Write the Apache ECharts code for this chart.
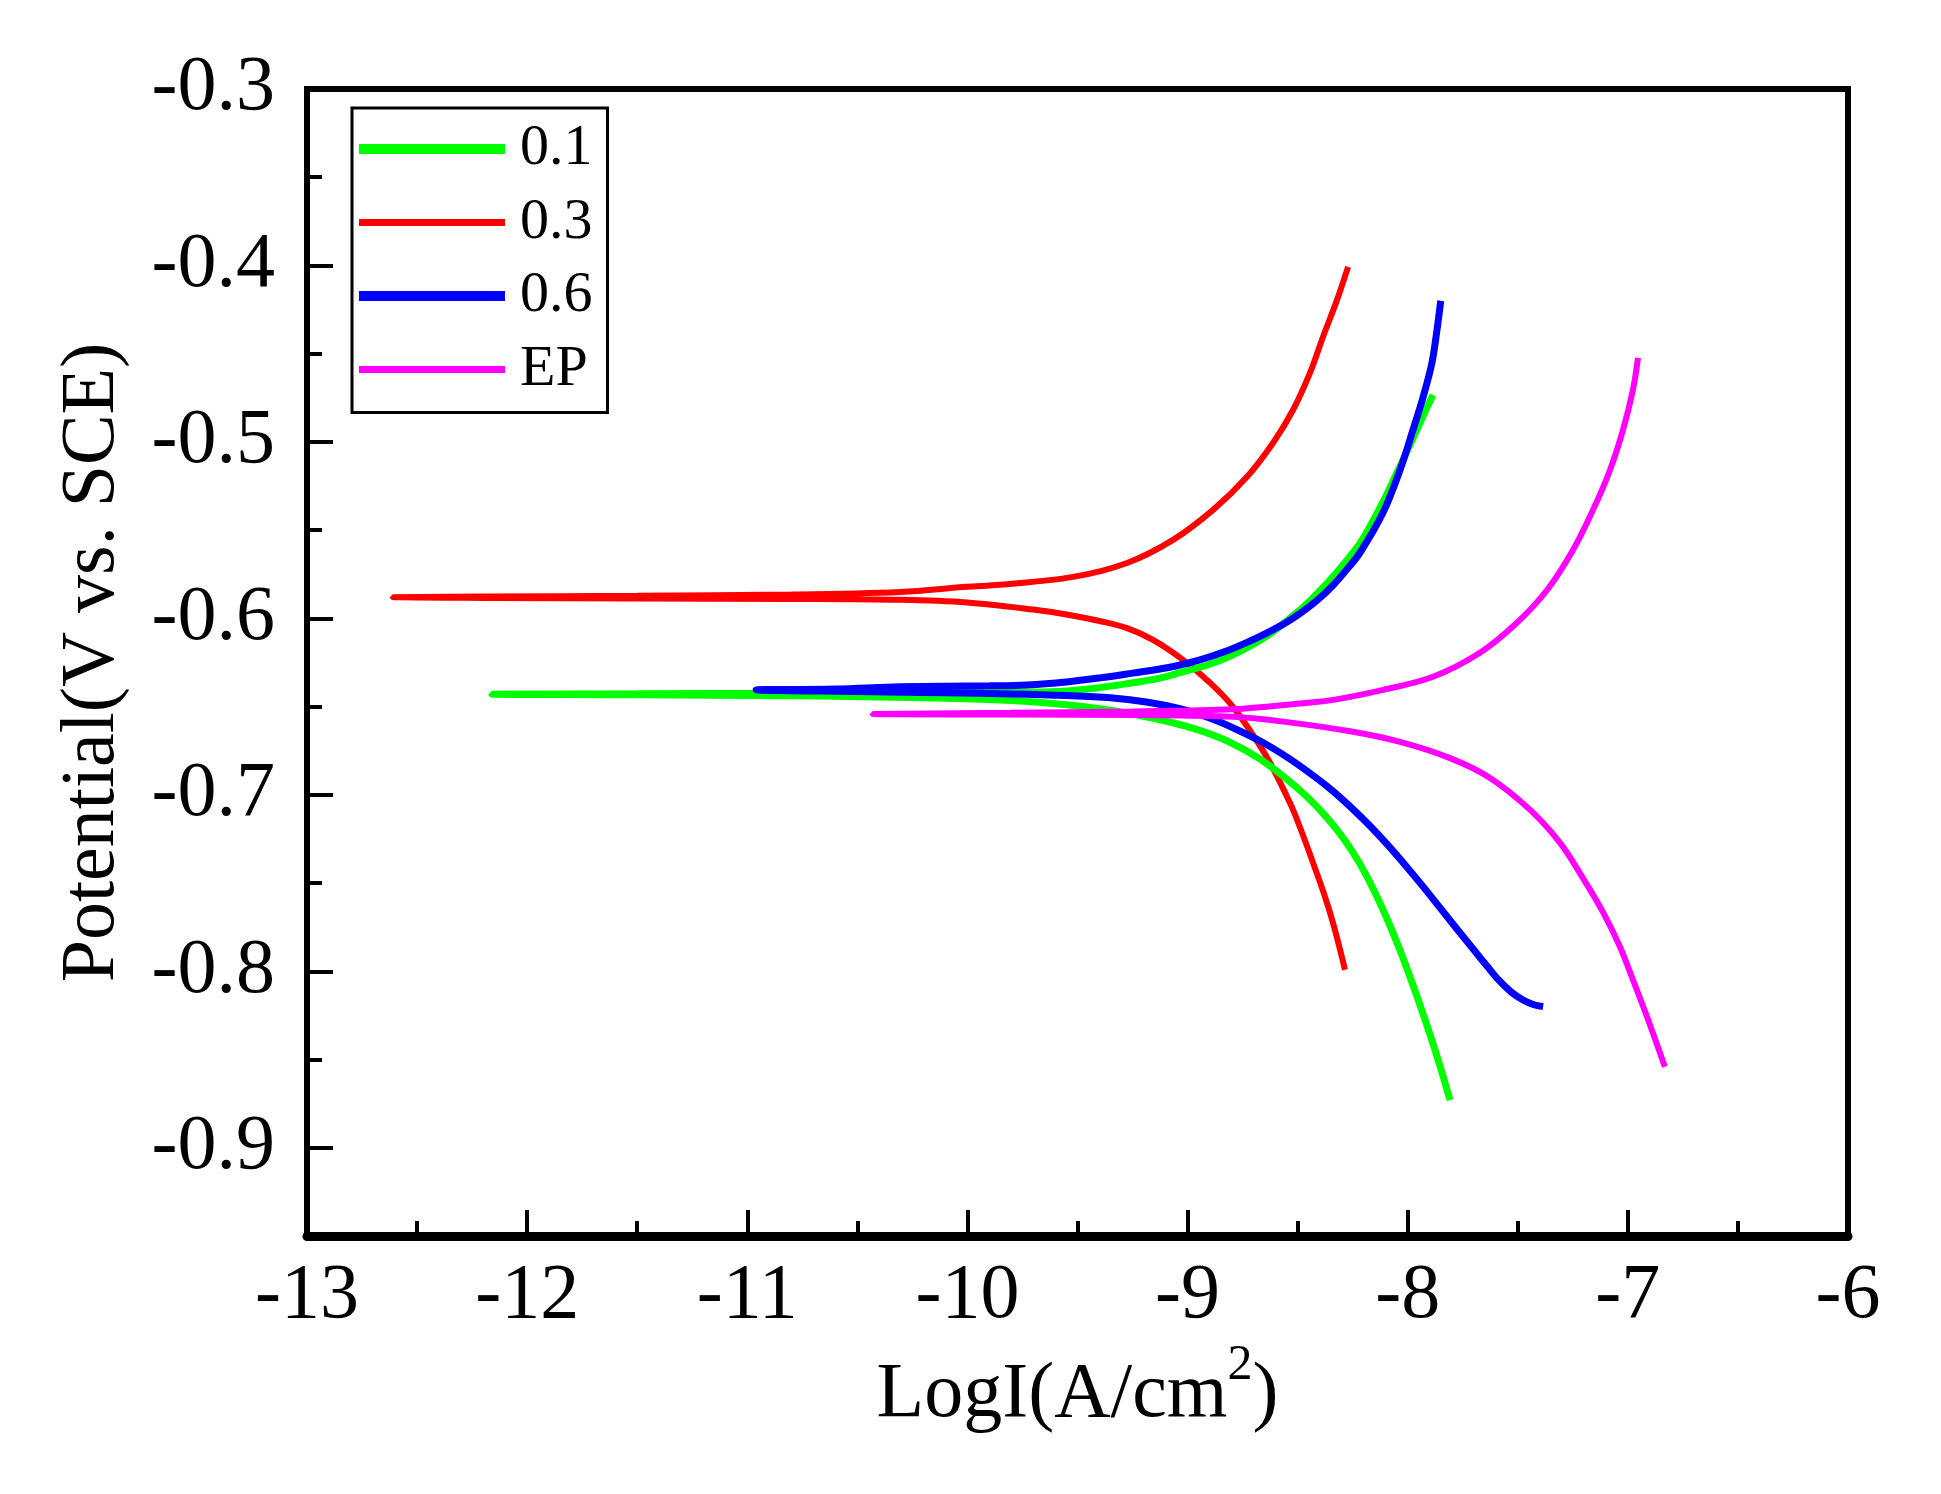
<!DOCTYPE html>
<html>
<head>
<meta charset="utf-8">
<script src="https://cdn.jsdelivr.net/npm/echarts@6/dist/echarts.min.js"></script>
<style>
html,body{margin:0;padding:0;background:#fff;}
#chart{width:1941px;height:1494px;}
</style>
</head>
<body>
<div id="chart"></div>
<script>
// Series names (legend)
const seriesNames = ['0.1', '0.3', '0.6', 'EP'];

// x tick values / y tick values
const xTicks = [-13, -12, -11, -10, -9, -8, -7, -6];
const yTicks = [-0.3, -0.4, -0.5, -0.6, -0.7, -0.8, -0.9];

// 0.1 (green): log I (A/cm2) and potential (V vs SCE), traced cathodic end -> Ecorr -> anodic end
const logI_01 = [-7.808,-7.86,-7.92,-7.98,-8.04,-8.10,-8.16,-8.22,-8.29,-8.37,
  -8.46,-8.56,-8.68,-8.82,-8.97,-9.14,-9.33,-9.55,-9.80,-10.10,-10.40,-10.80,-11.50,-12.16,
  -11.50,-10.80,-10.306,-9.90,-9.625,-9.45,-9.248,-9.13,-9.021,-8.90,
  -8.794,-8.64,-8.489,-8.40,-8.33,-8.22,-8.15,-8.10,-8.053,-8.00,-7.96,-7.92,-7.885];
const E_01 = [-0.873,-0.851,-0.828,-0.8065,-0.7865,-0.7685,-0.7525,-0.7385,-0.725,-0.7125,
  -0.7008,-0.690,-0.679,-0.6695,-0.6625,-0.657,-0.6525,-0.649,-0.6465,-0.6452,-0.6445,-0.6438,-0.6433,-0.643,
  -0.6427,-0.6424,-0.6421,-0.6419,-0.6416,-0.640,-0.6365,-0.634,-0.6303,-0.626,
  -0.6207,-0.610,-0.5952,-0.5845,-0.575,-0.558,-0.543,-0.531,-0.5185,-0.5045,-0.4935,-0.4825,-0.4734];

// 0.3 (red)
const logI_03 = [-8.285,-8.32,-8.353,-8.39,-8.43,-8.48,-8.535,-8.65,-8.794,-8.898,
  -9.021,-9.157,-9.275,-9.40,-9.55,-9.702,-10.002,-10.306,-10.8,-11.5,-12.2,-12.61,
  -12.2,-11.5,-10.8,-10.306,-10.002,-9.852,-9.52,-9.275,-9.066,-8.884,
  -8.730,-8.612,-8.521,-8.444,-8.385,-8.321,-8.271];
const E_03 = [-0.7991,-0.7815,-0.7668,-0.7525,-0.7385,-0.7215,-0.7045,-0.6765,-0.6501,-0.6365,
  -0.6235,-0.6122,-0.6055,-0.6015,-0.5978,-0.5950,-0.5910,-0.5895,-0.589,-0.5888,-0.5884,-0.588,
  -0.5876,-0.5872,-0.5865,-0.585,-0.5821,-0.581,-0.5765,-0.5686,-0.5555,-0.5385,
  -0.5198,-0.5006,-0.4819,-0.4609,-0.4405,-0.4195,-0.4008];

// 0.6 (blue)
const logI_06 = [-7.385,-7.43,-7.476,-7.53,-7.585,-7.64,-7.70,-7.77,-7.85,-7.93,
  -8.01,-8.09,-8.17,-8.26,-8.35,-8.45,-8.55,-8.66,-8.78,-8.90,
  -9.03,-9.18,-9.35,-9.55,-9.80,-10.10,-10.50,-10.96,
  -10.60,-10.306,-9.90,-9.729,-9.55,-9.398,-9.25,-9.093,-8.944,-8.83,
  -8.716,-8.639,-8.55,-8.489,-8.412,-8.339,-8.28,-8.217,-8.112,
  -8.035,-7.976,-7.93,-7.89,-7.867,-7.85];
const E_06 = [-0.8200,-0.8188,-0.8163,-0.8117,-0.8052,-0.7970,-0.7878,-0.7770,-0.7645,-0.7520,
  -0.7400,-0.7285,-0.7178,-0.7068,-0.6968,-0.6872,-0.6785,-0.6702,-0.6628,-0.6565,
  -0.6513,-0.6475,-0.6450,-0.6437,-0.6428,-0.6422,-0.6415,-0.6405,
  -0.6400,-0.6388,-0.6382,-0.6377,-0.6360,-0.6337,-0.6310,-0.6280,-0.6235,-0.6188,
  -0.6128,-0.6082,-0.6022,-0.5972,-0.5898,-0.5812,-0.5728,-0.5628,-0.5400,
  -0.5159,-0.4932,-0.4745,-0.4552,-0.4365,-0.4200];

// EP (magenta)
const logI_EP = [-6.832,-6.913,-6.977,-7.036,-7.113,-7.204,-7.308,-7.444,-7.626,-7.808,
  -8.035,-8.262,-8.566,-8.794,-9.2,-9.8,-10.43,
  -9.8,-9.248,-8.794,-8.489,-8.339,-8.112,-7.885,-7.672,-7.504,
  -7.367,-7.249,-7.158,-7.081,-7.022,-6.977,-6.954];
const E_EP = [-0.8541,-0.8258,-0.8048,-0.7861,-0.7665,-0.7472,-0.7272,-0.7085,-0.6904,-0.6792,
  -0.6700,-0.6640,-0.6585,-0.6558,-0.6548,-0.6545,-0.6542,
  -0.6535,-0.6527,-0.6515,-0.6482,-0.6462,-0.6405,-0.6331,-0.6195,-0.6025,
  -0.5839,-0.5612,-0.5385,-0.5159,-0.4932,-0.4705,-0.4524];

const zip = (xs, ys) => xs.map((x, i) => [x, ys[i]]);
const FONT = 'Liberation Serif';

const chart = echarts.init(document.getElementById('chart'), null, {renderer: 'canvas'});

function mkSeries(name, xs, ys, color, width, z) {
  return {
    name: name, type: 'line', data: zip(xs, ys),
    symbol: 'none', showSymbol: false, smooth: 0.35, z: z,
    lineStyle: {color: color, width: width},
    itemStyle: {color: color}
  };
}

const thickIcon = 'path://M0,0H146V10H0Z';
const thinIcon = 'path://M0,0H146V7H0Z';

chart.setOption({
  animation: false,
  backgroundColor: '#ffffff',
  grid: {
    left: 307, right: 93, top: 89, bottom: 258,
    show: true, borderColor: '#000', borderWidth: 6, backgroundColor: 'transparent'
  },
  legend: {
    orient: 'vertical', left: 352, top: 108,
    padding: [12, 15, 14, 7],
    borderColor: '#000', borderWidth: 3,
    itemWidth: 146, itemHeight: 58, itemGap: 15.5,
    symbolKeepAspect: true,
    data: [
      {name: '0.1', icon: thickIcon},
      {name: '0.3', icon: thinIcon},
      {name: '0.6', icon: thickIcon},
      {name: 'EP', icon: thinIcon}
    ],
    textStyle: {fontFamily: FONT, fontSize: 58, color: '#000', padding: [0, 0, 0, 10]}
  },
  xAxis: {
    type: 'value', min: xTicks[0], max: xTicks[xTicks.length - 1], interval: 1,
    position: 'bottom',
    axisLine: {show: true, lineStyle: {color: '#000', width: 9}},
    axisTick: {show: true, inside: true, length: 26, lineStyle: {color: '#000', width: 4}},
    minorTick: {show: true, splitNumber: 2, length: 15, lineStyle: {color: '#000', width: 4}},
    splitLine: {show: false},
    axisLabel: {fontFamily: FONT, fontSize: 78, color: '#000', margin: 22},
    name: 'LogI(A/cm{sup|2})',
    nameLocation: 'middle', nameGap: 87,
    nameTextStyle: {
      fontFamily: FONT, fontSize: 78, color: '#000', lineHeight: 110,
      rich: {sup: {fontFamily: FONT, fontSize: 50, color: '#000', verticalAlign: 'top', lineHeight: 50}}
    }
  },
  yAxis: [
    {
      type: 'value', min: -0.95, max: yTicks[0], splitNumber: 6,
      position: 'left',
      axisLine: {show: true, lineStyle: {color: '#000', width: 6}},
      axisTick: {show: true, inside: true, length: 26, lineStyle: {color: '#000', width: 4}},
      splitLine: {show: false},
      axisLabel: {
        fontFamily: FONT, fontSize: 78, color: '#000', margin: 32, showMinLabel: false,
        formatter: v => (Math.abs(v + 0.95) < 1e-6 ? '' : v.toFixed(1))
      },
      name: 'Potential(V vs. SCE)',
      nameLocation: 'middle', nameGap: 176,
      nameTextStyle: {fontFamily: FONT, fontSize: 76, color: '#000'}
    },
    {
      type: 'value', min: -0.95, max: yTicks[0], splitNumber: 13,
      position: 'left',
      axisLine: {show: false},
      axisTick: {show: true, inside: true, length: 15, lineStyle: {color: '#000', width: 4}},
      splitLine: {show: false},
      axisLabel: {show: false}
    }
  ],
  series: [
    mkSeries(seriesNames[1], logI_03, E_03, '#ff0000', 6, 2),
    mkSeries(seriesNames[0], logI_01, E_01, '#00ff00', 7, 3),
    mkSeries(seriesNames[2], logI_06, E_06, '#0000ff', 7, 4),
    mkSeries(seriesNames[3], logI_EP, E_EP, '#ff00ff', 6, 5)
  ]
});
</script>
</body>
</html>
